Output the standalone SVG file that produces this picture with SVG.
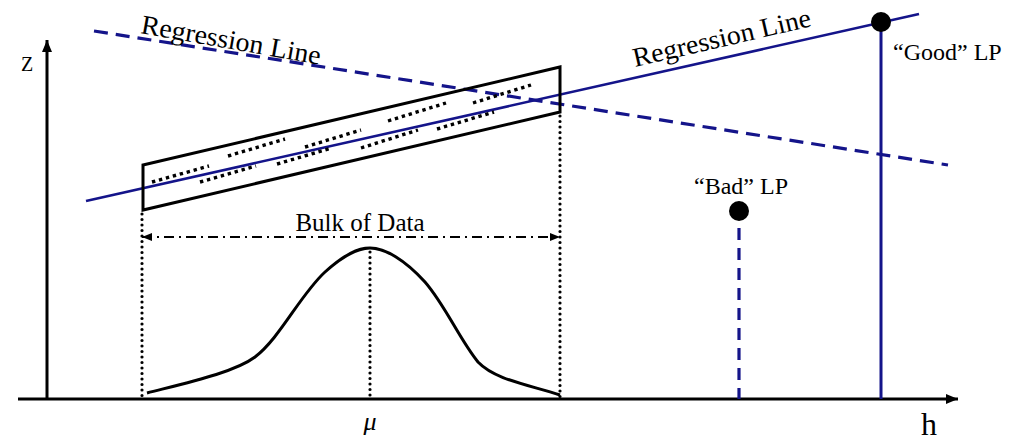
<svg xmlns="http://www.w3.org/2000/svg" width="1010" height="441" viewBox="0 0 1010 441">
<defs>
<style>
.t{font-family:"Liberation Serif","Times New Roman",serif;fill:#000}
.navy{stroke:#14148a;fill:none}
.blk{stroke:#000;fill:none}
.dots{stroke:#000;stroke-width:3.2;stroke-dasharray:0 5.5;stroke-linecap:round;fill:none}
.seg{stroke:#000;stroke-width:3.4;stroke-dasharray:3.4 3.8;fill:none}
</style>
<marker id="ah" viewBox="0 0 12 10" refX="12" refY="5" markerWidth="12" markerHeight="10" markerUnits="userSpaceOnUse" orient="auto">
<path d="M0,0 L12,5 L0,10 Z" fill="#000"/>
</marker>
<marker id="ahs" viewBox="0 0 10 8" refX="10" refY="4" markerWidth="10" markerHeight="8" markerUnits="userSpaceOnUse" orient="auto-start-reverse">
<path d="M0,0 L10,4 L0,8 Z" fill="#000"/>
</marker>
</defs>
<rect width="1010" height="441" fill="#fff"/>

<g id="axes">
<line class="blk" x1="47" y1="399" x2="47" y2="40" stroke-width="3" marker-end="url(#ah)"/>
<line class="blk" x1="18" y1="399" x2="958" y2="399" stroke-width="3" marker-end="url(#ah)"/>
<text class="t" x="21" y="71" font-size="20">Z</text>
<text class="t" x="921" y="435" font-size="32">h</text>
</g>

<g id="connectors">
<line class="navy" x1="94" y1="31" x2="948" y2="165" stroke-width="3.2" stroke-dasharray="14 8"/>
<line class="navy" x1="86" y1="201" x2="919" y2="14" stroke-width="2.6"/>
<line class="navy" x1="881" y1="22" x2="881" y2="399" stroke-width="3"/>
<line class="navy" x1="739" y1="228" x2="739" y2="399" stroke-width="3.2" stroke-dasharray="12 8"/>
<line class="dots" x1="142" y1="214" x2="142" y2="397"/>
<line class="dots" x1="560" y1="116" x2="560" y2="397"/>
<line class="dots" x1="370" y1="252" x2="370" y2="397"/>
<line class="blk" x1="142" y1="237" x2="560" y2="237" stroke-width="1.8" stroke-dasharray="10 5 2 5" marker-start="url(#ahs)" marker-end="url(#ahs)"/>
</g>

<g id="data-box">
<path class="blk" d="M143,165 L560,67 L560,112 L143,210 Z" stroke-width="3" stroke-linejoin="miter"/>
<path class="seg" d="M152,182 L209,166 M228,156 L285,139 M305,147 L361,130 M388,121 L446,103 M473,103 L531,85"/>
<path class="seg" d="M200,182 L256,166 M277,164 L332,148 M361,148 L418,130 M437,129 L494,112"/>
</g>

<g id="bell-curve">
<path class="blk" stroke-width="3" d="M147,393 C190,382 235,372 255,357 C280,338 300,295 325,272 C345,254 358,248 370,248 C385,248 405,260 425,282 C445,305 460,340 478,362 C495,380 530,385 560,395"/>
</g>

<g id="bulk-label">
<text class="t" x="360" y="231" font-size="25" text-anchor="middle">Bulk of Data</text>
<text class="t" x="370" y="430" font-size="26" font-style="italic" text-anchor="middle">μ</text>
</g>

<g id="regression-labels">
<text class="t" x="140" y="33" font-size="27" transform="rotate(10 140 33)" textLength="182" lengthAdjust="spacingAndGlyphs">Regression Line</text>
<text class="t" x="635" y="67" font-size="27" transform="rotate(-13 635 67)" textLength="182" lengthAdjust="spacingAndGlyphs">Regression Line</text>
</g>

<g id="good-lp">
<circle cx="881" cy="22" r="10" fill="#000"/>
<text class="t" x="893" y="60" font-size="24">“Good” LP</text>
</g>

<g id="bad-lp">
<circle cx="739" cy="211" r="10" fill="#000"/>
<text class="t" x="694" y="194" font-size="24">“Bad” LP</text>
</g>
</svg>
